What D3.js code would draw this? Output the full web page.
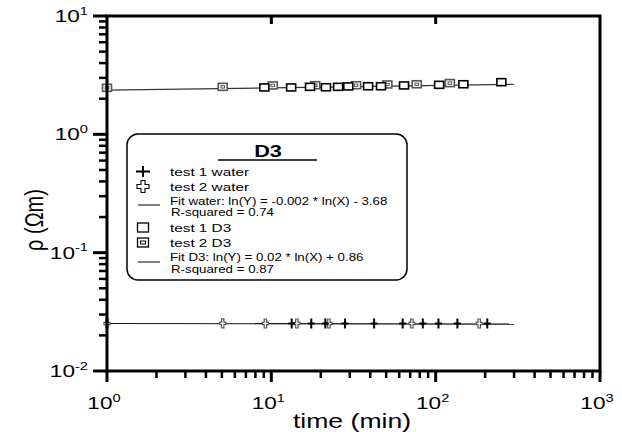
<!DOCTYPE html>
<html>
<head>
<meta charset="utf-8">
<script src="https://cdn.jsdelivr.net/npm/d3@7"></script>
<style>
  body { margin: 0; background: #fff; }
  text { font-family: "Liberation Sans", Arial, sans-serif; fill: #000; }
</style>
</head>
<body>
<svg id="chart" width="622" height="432"></svg>
<script>
// data
var water1T = [13.3, 17.5, 21.3, 28.1, 42.2, 63, 83.5, 104, 135.6, 206];
var water1Y = [0.0252, 0.0252, 0.0252, 0.0252, 0.0252, 0.0252, 0.0252, 0.0252, 0.0252, 0.0252];
var water2T = [1, 5.06, 9.2, 14.3, 22.4, 71.6, 184];
var water2Y = [0.0252, 0.0253, 0.0252, 0.0252, 0.0252, 0.0252, 0.0252];
var d3test1T = [9.07, 13.2, 17.2, 21.5, 25.5, 29.4, 38.8, 46.5, 64.2, 105, 147.4, 251];
var d3test1Y = [2.49, 2.49, 2.52, 2.50, 2.52, 2.54, 2.55, 2.55, 2.59, 2.62, 2.65, 2.76];
var d3test2T = [1, 5.06, 10.2, 18.5, 32.8, 50.8, 76.7, 122];
var d3test2Y = [2.47, 2.52, 2.59, 2.60, 2.60, 2.64, 2.65, 2.71];
var fitT = [1, 300];
var fitWaterY = [0.0252, 0.0249];
var fitD3Y = [2.36, 2.65];
var xMajor = [1, 10, 100, 1000];
var yMajor = [0.01, 0.1, 1, 10];

var stretch = 1.33; // the original picture is widened horizontally

var svg = d3.select("#chart");
var pLeft = 107, pRight = 600, pTop = 16, pBottom = 371;

var x = d3.scaleLog().domain([1, 1000]).range([pLeft, pRight]);
var y = d3.scaleLog().domain([0.01, 10]).range([pBottom, pTop]);

function zip(ts, ys) {
  return ts.map(function(t, i) { return [t, ys[i]]; });
}

// stretched text helper
function label(g, px, py, anchor, size, weight) {
  return g.append("g")
    .attr("transform", "translate(" + px + "," + py + ") scale(" + stretch + ",1)")
    .append("text")
    .attr("text-anchor", anchor)
    .attr("font-size", size)
    .attr("font-weight", weight || "normal");
}

function power(g, px, py, anchor, exp) {
  var t = label(g, px, py, anchor, 17);
  t.append("tspan").text("10");
  t.append("tspan").attr("dy", -7.5).attr("font-size", 11).text(exp);
}

// fit lines
var line = d3.line().x(function(d) { return x(d[0]); }).y(function(d) { return y(d[1]); });
svg.append("path").attr("d", line(zip(fitT, fitWaterY)))
  .attr("fill", "none").attr("stroke", "#111").attr("stroke-width", 1.2);
svg.append("path").attr("d", line(zip(fitT, fitD3Y)))
  .attr("fill", "none").attr("stroke", "#333").attr("stroke-width", 1.2);

// markers
function plusPath(w, h) {
  return "M" + (-w) + ",0H" + w + "M0," + (-h) + "V" + h;
}
function crossOutline(w, h, a) {
  return "M" + (-a) + "," + (-h) + "H" + a + "V" + (-a) + "H" + w + "V" + a + "H" + a +
    "V" + h + "H" + (-a) + "V" + a + "H" + (-w) + "V" + (-a) + "H" + (-a) + "Z";
}

svg.selectAll(".w2").data(zip(water2T, water2Y)).enter().append("path")
  .attr("class", "w2")
  .attr("transform", function(d) { return "translate(" + x(d[0]) + "," + y(d[1]) + ")"; })
  .attr("d", crossOutline(3, 4.5, 1.2))
  .attr("fill", "#fff").attr("stroke", "#555").attr("stroke-width", 1.2);

svg.selectAll(".w1").data(zip(water1T, water1Y)).enter().append("path")
  .attr("class", "w1")
  .attr("transform", function(d) { return "translate(" + x(d[0]) + "," + y(d[1]) + ")"; })
  .attr("d", plusPath(3.5, 5))
  .attr("fill", "none").attr("stroke", "#000").attr("stroke-width", 2);

var s2 = svg.selectAll(".s2").data(zip(d3test2T, d3test2Y)).enter().append("g")
  .attr("class", "s2")
  .attr("transform", function(d) { return "translate(" + x(d[0]) + "," + y(d[1]) + ")"; });
s2.append("rect").attr("x", -4.5).attr("y", -3.5).attr("width", 9).attr("height", 7)
  .attr("fill", "#fff").attr("stroke", "#555").attr("stroke-width", 1.6);
s2.append("rect").attr("x", -1.8).attr("y", -1.2).attr("width", 3.6).attr("height", 2.4)
  .attr("fill", "none").attr("stroke", "#555").attr("stroke-width", 1);

svg.selectAll(".s1").data(zip(d3test1T, d3test1Y)).enter().append("rect")
  .attr("class", "s1")
  .attr("x", function(d) { return x(d[0]) - 4.5; })
  .attr("y", function(d) { return y(d[1]) - 3.5; })
  .attr("width", 9).attr("height", 7)
  .attr("fill", "#fff").attr("stroke", "#000").attr("stroke-width", 1.6);

// frame
var ax = svg.append("g");
ax.append("path")
  .attr("d", "M" + pLeft + "," + pTop + "H" + pRight + "V" + pBottom + "H" + pLeft + "Z")
  .attr("fill", "none").attr("stroke", "#000").attr("stroke-width", 3);

// x ticks (bottom outward, top inward majors only)
x.ticks().forEach(function(v) {
  var major = xMajor.indexOf(v) >= 0;
  ax.append("line").attr("x1", x(v)).attr("x2", x(v))
    .attr("y1", pBottom).attr("y2", pBottom + (major ? 11 : 7))
    .attr("stroke", "#000").attr("stroke-width", major ? 3 : 2.5);
});
xMajor.slice(1, 3).forEach(function(v) {
  ax.append("line").attr("x1", x(v)).attr("x2", x(v))
    .attr("y1", pTop).attr("y2", pTop + 8)
    .attr("stroke", "#000").attr("stroke-width", 3);
});
y.ticks().forEach(function(v) {
  var major = yMajor.some(function(m) { return Math.abs(m - v) / m < 1e-6; });
  ax.append("line").attr("y1", y(v)).attr("y2", y(v))
    .attr("x1", pLeft).attr("x2", pLeft - (major ? 14 : 8))
    .attr("stroke", "#000").attr("stroke-width", major ? 3 : 2.5);
});

xMajor.forEach(function(v, i) {
  power(ax, x(v) - 3, 409, "middle", String(i));
});
yMajor.forEach(function(v, i) {
  power(ax, 88, y(v) + 6, "end", String(i - 2));
});

label(ax, 352, 428, "middle", 20).text("time (min)");
svg.append("g")
  .attr("transform", "translate(43,220) scale(" + stretch + ",1) rotate(-90)")
  .append("text").attr("text-anchor", "middle").attr("font-size", 20)
  .text("\u03c1 (\u03a9m)");

// legend
var lg = svg.append("g");
lg.append("rect").attr("x", 127).attr("y", 134).attr("width", 280).attr("height", 146)
  .attr("rx", 11).attr("fill", "#fff").attr("stroke", "#000").attr("stroke-width", 1.5);
label(lg, 268, 157, "middle", 16.3, "bold").text("D3");
lg.append("line").attr("x1", 218).attr("x2", 317).attr("y1", 160).attr("y2", 160)
  .attr("stroke", "#000").attr("stroke-width", 1.6);

var mx = 143, tx = 170;
lg.append("path").attr("transform", "translate(" + mx + ",171.5)").attr("d", plusPath(7, 5.5))
  .attr("stroke", "#000").attr("stroke-width", 2);
label(lg, tx, 176, "start", 11.5).text("test 1 water");
lg.append("path").attr("transform", "translate(" + mx + ",186.5)").attr("d", crossOutline(6, 6, 2))
  .attr("fill", "#fff").attr("stroke", "#000").attr("stroke-width", 1.1);
label(lg, tx, 191, "start", 11.5).text("test 2 water");
lg.append("line").attr("x1", 138).attr("x2", 160).attr("y1", 205).attr("y2", 205)
  .attr("stroke", "#000").attr("stroke-width", 1);
label(lg, tx, 205, "start", 10).text("Fit  water: ln(Y) = -0.002 * ln(X) - 3.68");
label(lg, tx + 1, 216, "start", 10).text("R-squared = 0.74");
lg.append("rect").attr("x", mx - 5.5).attr("y", 223).attr("width", 11).attr("height", 9)
  .attr("fill", "#fff").attr("stroke", "#000").attr("stroke-width", 1.3);
label(lg, tx, 232, "start", 11.5).text("test 1 D3");
lg.append("rect").attr("x", mx - 5.5).attr("y", 238).attr("width", 11).attr("height", 9)
  .attr("fill", "#fff").attr("stroke", "#000").attr("stroke-width", 1.3);
lg.append("rect").attr("x", mx - 2.5).attr("y", 241).attr("width", 5).attr("height", 3)
  .attr("fill", "none").attr("stroke", "#000").attr("stroke-width", 1);
label(lg, tx, 247, "start", 11.5).text("test 2 D3");
lg.append("line").attr("x1", 138).attr("x2", 160).attr("y1", 262).attr("y2", 262)
  .attr("stroke", "#000").attr("stroke-width", 1);
label(lg, tx, 261, "start", 10).text("Fit D3: ln(Y) = 0.02 * ln(X) + 0.86");
label(lg, tx + 1, 272.5, "start", 10).text("R-squared = 0.87");
</script>
</body>
</html>
